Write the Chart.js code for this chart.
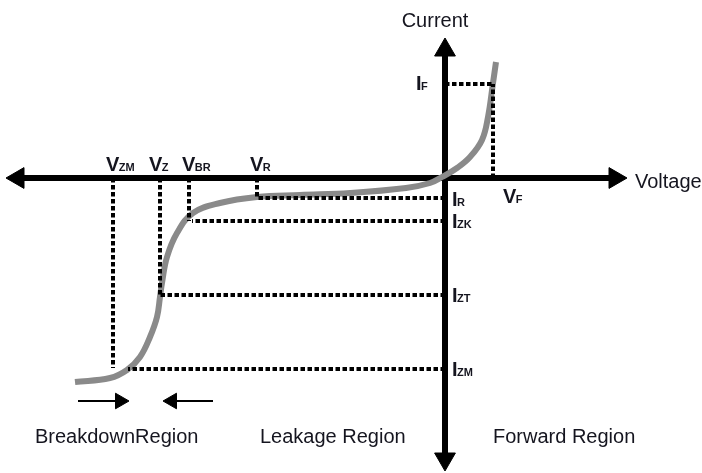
<!DOCTYPE html>
<html>
<head>
    <title>Zener diode I-V characteristic</title>
    <script src="https://cdn.jsdelivr.net/npm/chart.js@4/dist/chart.umd.min.js"></script>
    <style>
        html, body { margin: 0; padding: 0; background: #fff; }
        #wrap { position: relative; width: 702px; height: 473px; }
    </style>
</head>
<body>
    <div id="wrap"><canvas id="grafico"></canvas></div>
    <script>
        // curva I-V (unidades arbitrarias, origem no cruzamento dos eixos)
        var curveV = [-37.0, -33.5, -31.8, -30.5, -29.5, -28.8, -28.5, -28.3, -27.8, -26.8, -25.2, -22.5, -18.8, -14.5, -9.5, -3.9, -1.5, -0.3, 1.2, 2.5, 3.7, 4.3, 4.8, 5.1];
        var curveI = [-20.4, -20.0, -19.2, -17.9, -15.9, -13.9, -11.9, -10.5, -7.9, -5.5, -3.5, -2.5, -1.9, -1.7, -1.5, -1.0, -0.5, 0.1, 1.0, 2.1, 3.8, 6.1, 9.5, 11.6];

        // linhas pontilhadas verticais (da tensao ate o ponto) e horizontais (do ponto ate o eixo I)
        var vGuideV = [-33.2, -28.5, -25.6, -18.8, 4.8];
        var vGuideI = [-19.0, -11.7, -4.3, -1.9, 9.4];
        var hGuideI = [-19.1, -11.7, -4.3, -2.0, 9.4];
        var hGuideV = [-31.7, -28.5, -25.3, -18.8, 4.8];

        // eixos (centro das setas)
        var axisV = [-42.7, 17.0];
        var axisI = [12.8, -28.1];

        // setas da regiao de ruptura
        var arrowI = -22.3;
        var arrowRightV = [-36.7, -32.5];
        var arrowLeftV = [-23.2, -27.3];

        // rotulos
        var symMain = ['V', 'V', 'V', 'V', 'I', 'V', 'I', 'I', 'I', 'I'];
        var symSub = ['ZM', 'Z', 'BR', 'R', 'F', 'F', 'R', 'ZK', 'ZT', 'ZM'];
        var symV = [-33.9, -29.6, -26.3, -19.5, -2.9, 5.8, 0.7, 0.7, 0.7, 0.7];
        var symI = [0.7, 0.7, 0.7, 0.7, 8.8, -2.5, -2.8, -5.0, -12.4, -19.8];

        var regionNames = ['BreakdownRegion', 'Leakage Region', 'Forward Region'];
        var regionV = [-41.0, -18.5, 4.8];
        var regionI = -26.5;

        var axisTitles = ['Current', 'Voltage'];
        var axisTitleV = [-1.0, 19.0];
        var axisTitleI = [15.1, -1.0];

        var FONT = "'Liberation Sans', Arial, sans-serif";

        function pts(xs, ys) {
            return xs.map(function (x, i) { return { x: x, y: ys[i] }; });
        }

        var datasets = [];

        // eixos
        datasets.push({
            data: [{ x: axisV[0], y: 0 }, { x: axisV[1], y: 0 }],
            borderColor: '#000', borderWidth: 6,
            pointStyle: 'triangle', pointRadius: 12, pointRotation: [-90, 90],
            pointBackgroundColor: '#000', pointBorderColor: '#000', pointBorderWidth: 1,
            order: 3
        });
        datasets.push({
            data: [{ x: 0, y: axisI[0] }, { x: 0, y: axisI[1] }],
            borderColor: '#000', borderWidth: 6,
            pointStyle: 'triangle', pointRadius: 12, pointRotation: [0, 180],
            pointBackgroundColor: '#000', pointBorderColor: '#000', pointBorderWidth: 1,
            order: 3
        });

        // curva
        datasets.push({
            data: pts(curveV, curveI),
            borderColor: '#8a8a8a', borderWidth: 6,
            tension: 0.4,
            pointRadius: 0, borderCapStyle: 'butt',
            order: 2
        });

        // guias pontilhadas
        vGuideV.forEach(function (v, i) {
            datasets.push({
                data: [{ x: v, y: 0 }, { x: v, y: vGuideI[i] }],
                borderColor: '#000', borderWidth: 4, borderDash: [4.5, 2.5],
                pointRadius: 0, order: 1
            });
        });
        hGuideI.forEach(function (c, i) {
            datasets.push({
                data: [{ x: 0, y: c }, { x: hGuideV[i], y: c }],
                borderColor: '#000', borderWidth: 4, borderDash: [4.5, 2.5],
                pointRadius: 0, order: 1
            });
        });

        // setas pequenas
        [arrowRightV, arrowLeftV].forEach(function (a, i) {
            datasets.push({
                data: [{ x: a[0], y: arrowI }, { x: a[1], y: arrowI }],
                borderColor: '#000', borderWidth: 2,
                pointStyle: 'triangle', pointRadius: [0, 9], pointRotation: i === 0 ? 90 : -90,
                pointBackgroundColor: '#000', pointBorderColor: '#000', pointBorderWidth: 1,
                order: 1
            });
        });

        var textPlugin = {
            id: 'rotulos',
            afterDatasetsDraw: function (chart) {
                var ctx = chart.ctx;
                var sx = chart.scales.x, sy = chart.scales.y;
                ctx.save();
                ctx.fillStyle = '#15151f';
                ctx.textBaseline = 'alphabetic';

                // simbolos com subscrito
                symMain.forEach(function (m, i) {
                    var px = sx.getPixelForValue(symV[i]);
                    var py = sy.getPixelForValue(symI[i]);
                    ctx.textAlign = 'left';
                    ctx.font = 'bold 20px ' + FONT;
                    ctx.fillText(m, px, py);
                    var w = ctx.measureText(m).width;
                    ctx.font = 'bold 11px ' + FONT;
                    ctx.fillText(symSub[i], px + w - 0.5, py);
                });

                // regioes
                ctx.font = '20px ' + FONT;
                ctx.textAlign = 'left';
                regionNames.forEach(function (t, i) {
                    ctx.fillText(t, sx.getPixelForValue(regionV[i]), sy.getPixelForValue(regionI));
                });

                // titulos dos eixos
                ctx.font = '20px ' + FONT;
                ctx.textAlign = 'center';
                ctx.fillText(axisTitles[0], sx.getPixelForValue(axisTitleV[0]), sy.getPixelForValue(axisTitleI[0]));
                ctx.textAlign = 'left';
                ctx.fillText(axisTitles[1], sx.getPixelForValue(axisTitleV[1]), sy.getPixelForValue(axisTitleI[1]));
                ctx.restore();
            }
        };

        var chart = new Chart(document.getElementById('grafico').getContext('2d'), {
            type: 'line',
            data: { datasets: datasets },
            options: {
                responsive: true,
                maintainAspectRatio: false,
                animation: false,
                clip: false,
                layout: { padding: 0, autoPadding: false },
                plugins: { legend: { display: false }, tooltip: { enabled: false } },
                datasets: { line: { clip: false, fill: false } },
                scales: {
                    x: { type: 'linear', display: false, min: -44.5, max: 25.7 },
                    y: { type: 'linear', display: false, min: -29.5, max: 17.8 }
                }
            },
            plugins: [textPlugin]
        });
    </script>
</body>
</html>
